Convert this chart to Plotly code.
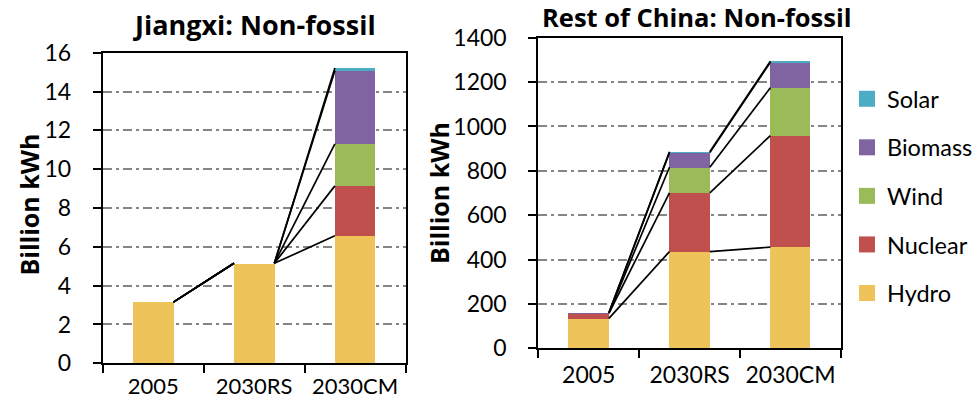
import plotly.graph_objects as go

categories = ["2005", "2030RS", "2030CM"]
sources = ["Hydro", "Nuclear", "Wind", "Biomass", "Solar"]
colors = ["#EEC35A", "#C0504D", "#9BBB59", "#8064A2", "#4BACC6"]

# Jiangxi (billion kWh)
jx_hydro = [3.15, 5.15, 6.57]
jx_nuclear = [0, 0, 2.57]
jx_wind = [0, 0, 2.16]
jx_biomass = [0, 0, 3.77]
jx_solar = [0, 0, 0.14]

# Rest of China (billion kWh)
rc_hydro = [135, 436, 456]
rc_nuclear = [23, 265, 503]
rc_wind = [1, 115, 215]
rc_biomass = [1, 66, 115]
rc_solar = [0, 4, 5]

jx_ticks = [0, 2, 4, 6, 8, 10, 12, 14, 16]
rc_ticks = [0, 200, 400, 600, 800, 1000, 1200, 1400]

FONT = "Lato"
BOLD = "Open Sans"
BAR_W = 0.4

jx = [jx_hydro, jx_nuclear, jx_wind, jx_biomass, jx_solar]
rc = [rc_hydro, rc_nuclear, rc_wind, rc_biomass, rc_solar]

fig = go.Figure()
xs = list(range(len(categories)))


def add_panel(data, xa, ya):
    for name, vals, col in zip(sources, data, colors):
        fig.add_trace(go.Bar(
            x=xs, y=vals, width=BAR_W, name=name, marker=dict(color=col, line=dict(width=0)),
            xaxis=xa, yaxis=ya, showlegend=False,
        ))
    # series lines connecting cumulative tops
    run = [0] * len(categories)
    for vals in data:
        run = [r + v for r, v in zip(run, vals)]
        for i in range(len(categories) - 1):
            fig.add_trace(go.Scatter(
                x=[xs[i] + BAR_W / 2, xs[i + 1] - BAR_W / 2], y=[run[i], run[i + 1]],
                mode="lines", line=dict(color="black", width=1.7),
                xaxis=xa, yaxis=ya, showlegend=False, hoverinfo="skip",
            ))


add_panel(jx, "x", "y")
add_panel(rc, "x2", "y2")

# legend entries (square swatches), Solar on top
for k, (name, col) in enumerate(zip(sources, colors)):
    fig.add_trace(go.Scatter(
        x=[None], y=[None], mode="markers", name=name, legendgroup=name,
        legendrank=len(sources) - k,
        marker=dict(symbol="square", size=16, color=col),
        xaxis="x2", yaxis="y2", showlegend=True,
    ))

W, H = 977, 401
axis_common = dict(
    showline=True, linecolor="black", linewidth=2, mirror=True, automargin=False,
    tickfont=dict(family=FONT, size=23, color="black"),
)
xcommon = dict(
    axis_common, range=[-0.5, 2.5], tickvals=xs, ticktext=categories,
    ticks="", showgrid=False, zeroline=False, ticklabelstandoff=5,
    minor=dict(tickmode="linear", tick0=-0.5, dtick=1, ticks="outside", ticklen=8,
               tickwidth=2, tickcolor="black", showgrid=False),
)
ycommon = dict(
    axis_common, ticks="outside", ticklen=8, tickwidth=2, tickcolor="black",
    showgrid=True, gridcolor="#858585", gridwidth=1.6, griddash="9px,4px,3px,4px",
    zeroline=False, ticklabelstandoff=17,
)

fig.update_layout(
    width=W, height=H, margin=dict(l=0, r=0, t=0, b=0, autoexpand=False),
    paper_bgcolor="white", plot_bgcolor="white",
    barmode="stack", bargap=0,
    font=dict(family=FONT, size=23, color="black"),
    xaxis=dict(xcommon, domain=[102.8 / W, 405.5 / W], anchor="y",
               tickfont=dict(family=FONT, size=22, color="black"), ticklabelstandoff=2),
    yaxis=dict(ycommon, domain=[1 - 363.3 / H, 1 - 52.7 / H], range=[0, 16], tickvals=jx_ticks, anchor="x"),
    xaxis2=dict(xcommon, domain=[538.3 / W, 841 / W], anchor="y2"),
    yaxis2=dict(ycommon, domain=[1 - 348.3 / H, 1 - 37.7 / H], range=[0, 1400], tickvals=rc_ticks, anchor="x2"),
    legend=dict(
        x=847 / W, y=1 - 77 / H, xanchor="left", yanchor="top",
        traceorder="grouped", tracegroupgap=15,
        font=dict(family=FONT, size=23.5, color="black"), bgcolor="rgba(0,0,0,0)",
    ),
    annotations=[
        dict(text="<b>Jiangxi: Non-fossil</b>", x=254 / W, y=1 - 24.5 / H, xref="paper", yref="paper",
             xanchor="center", yanchor="middle", showarrow=False, font=dict(family=BOLD, size=27)),
        dict(text="<b>Rest of China: Non-fossil</b>", x=696 / W, y=1 - 17 / H, xref="paper", yref="paper",
             xanchor="center", yanchor="middle", showarrow=False, font=dict(family=BOLD, size=25.5)),
        dict(text="<b>Billion kWh</b>", x=28.5 / W, y=1 - 205 / H, xref="paper", yref="paper",
             xanchor="center", yanchor="middle", textangle=-90, showarrow=False, font=dict(family=BOLD, size=25)),
        dict(text="<b>Billion kWh</b>", x=438.5 / W, y=1 - 193.5 / H, xref="paper", yref="paper",
             xanchor="center", yanchor="middle", textangle=-90, showarrow=False, font=dict(family=BOLD, size=25)),
    ],
)

fig.write_html(
    "out.html",
    config={"displayModeBar": False},
    post_script="document.body.style.margin='0';document.body.style.padding='0';document.body.style.overflow='hidden';",
)
